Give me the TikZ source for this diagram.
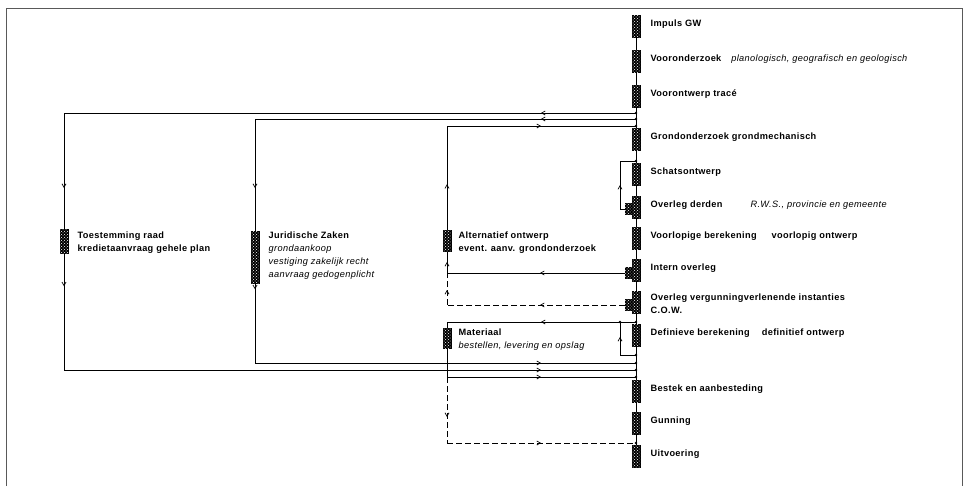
\documentclass[tikz,border=0pt]{standalone}
\usepackage{fontspec}
\setmainfont{Liberation Sans}[LetterSpace=4]
\usetikzlibrary{arrows.meta,positioning,patterns,decorations.markings}
\newcommand\cursief[1]{{\mdseries\itshape\fontsize{9.2}{13}\selectfont #1}}

\begin{document}
\begin{tikzpicture}[x=1pt, y=-1pt, line width=.7pt, >={Straight Barb[length=3.5pt,width=4pt]}]
\useasboundingbox (0,0) rectangle (967,488);
\tikzset{stap/.style={draw, fill=black, postaction={pattern=crosshatch dots, pattern color=white}, minimum width=8pt, minimum height=22pt, inner sep=0pt, line width=.6pt},
  zij/.style={stap, minimum width=6pt, minimum height=11pt},
  tekst/.style={anchor=west, inner sep=0pt, align=left, font=\fontsize{9.2}{13}\selectfont\bfseries},
  punt/.style={circle, fill=black, inner sep=0pt, minimum size=2.6pt},
  pijl/.style={postaction={decorate}, decoration={markings, mark=at position #1 with {\arrow{>}}}},
  stippel/.style={dash pattern=on 6pt off 3pt},
  kader/.style={line width=.9pt, black!65}}
\draw[kader] (6,486) -- (6,8) -- (962,8) -- (962,486);
\node[stap] (impuls) at (636,26) {};
\node[stap] (voor) at (636,61) {};
\node[stap] (trace) at (636,96) {};
\node[stap] (grond) at (636,139) {};
\node[stap] (schets) at (636,174) {};
\node[stap] (derden) at (636,207) {};
\node[stap] (voorl) at (636,238) {};
\node[stap] (intern) at (636,270) {};
\node[stap] (vergun) at (636,302) {};
\node[stap] (defin) at (636,335) {};
\node[stap] (bestek) at (636,391) {};
\node[stap] (gunning) at (636,423) {};
\node[stap] (uitv) at (636,456) {};
\node[zij, left=0pt of derden.west, yshift=-2pt] (derden-z) {};
\node[zij, left=0pt of intern.west, yshift=-3pt] (intern-z) {};
\node[zij, left=0pt of vergun.west, yshift=-3pt] (vergun-z) {};
\node[tekst, right=10pt of impuls, yshift=2pt] (impuls-t) {Impuls GW};
\node[tekst, right=10pt of voor, yshift=2pt] (voor-t) {Vooronderzoek\hspace{10pt}\cursief{planologisch, geografisch en geologisch}};
\node[tekst, right=10pt of trace, yshift=2pt] (trace-t) {Voorontwerp tracé};
\node[tekst, right=10pt of grond, yshift=2pt] (grond-t) {Grondonderzoek grondmechanisch};
\node[tekst, right=10pt of schets, yshift=2pt] (schets-t) {Schatsontwerp};
\node[tekst, right=10pt of derden, yshift=2pt] (derden-t) {Overleg derden\hspace{28pt}\cursief{R.W.S., provincie en gemeente}};
\node[tekst, right=10pt of voorl, yshift=2pt] (voorl-t) {Voorlopige berekening\hspace{15pt}voorlopig ontwerp};
\node[tekst, right=10pt of intern, yshift=2pt] (intern-t) {Intern overleg};
\node[tekst, right=10pt of vergun, yshift=-2pt] (vergun-t) {Overleg vergunningverlenende instanties\\C.O.W.};
\node[tekst, right=10pt of defin, yshift=2pt] (defin-t) {Definieve berekening\hspace{12pt}definitief ontwerp};
\node[tekst, right=10pt of bestek, yshift=2pt] (bestek-t) {Bestek en aanbesteding};
\node[tekst, right=10pt of gunning, yshift=2pt] (gunning-t) {Gunning};
\node[tekst, right=10pt of uitv, yshift=2pt] (uitv-t) {Uitvoering};
\node[stap, minimum height=24pt] (raad) at (64,241) {};
\node[stap, minimum height=52pt] (jur) at (255,257) {};
\node[stap, minimum height=21pt] (alt) at (447,241) {};
\node[stap, minimum height=20pt] (mat) at (447,338) {};
\node[tekst, right=9pt of raad, yshift=-1.5pt] (raad-t) {Toestemming raad\\kredietaanvraag gehele plan};
\node[tekst, right=9pt of jur, yshift=1.5pt] (jur-t) {Juridische Zaken\\\cursief{grondaankoop}\\\cursief{vestiging zakelijk recht}\\\cursief{aanvraag gedogenplicht}};
\node[tekst, right=7pt of alt, yshift=-1.5pt] (alt-t) {Alternatief ontwerp\\event. aanv. grondonderzoek};
\node[tekst, right=7pt of mat, yshift=-1.5pt] (mat-t) {Materiaal\\\cursief{bestellen, levering en opslag}};
\coordinate (j1) at (636,113);
\coordinate (j2) at (636,119);
\coordinate (j3) at (636,126);
\coordinate (j4) at (636,161);
\coordinate (j5) at (636,322);
\coordinate (j6) at (636,355);
\coordinate (j7) at (636,363);
\coordinate (j8) at (636,370);
\coordinate (j9) at (636,377);
\coordinate (j10) at (636,443);
\coordinate (r1) at (64,113);
\coordinate (r2) at (64,370);
\coordinate (u1) at (255,119);
\coordinate (u2) at (255,363);
\coordinate (a1) at (447,126);
\coordinate (a2) at (447,273);
\coordinate (a3) at (447,305);
\coordinate (m1) at (447,322);
\coordinate (m2) at (447,377);
\coordinate (m3) at (447,443);
\coordinate (s1) at (620,161);
\coordinate (s2) at (620,209);
\coordinate (d1) at (620,355);
\coordinate (d2) at (620,322);
\draw (impuls) -- (voor) -- (trace) -- (grond) -- (schets) -- (derden) -- (voorl) -- (intern) -- (vergun) -- (defin) -- (bestek) -- (gunning) -- (uitv);
\draw[pijl=95pt] (j1) -- (r1);
\draw[pijl=75pt] (r1) -- (raad);
\draw[pijl=33pt] (raad) -- (r2);
\draw[pijl=477pt] (r2) -- (j8);
\draw[pijl=95pt] (j2) -- (u1);
\draw[pijl=69pt] (u1) -- (jur);
\draw[pijl=6pt] (jur) -- (u2);
\draw[pijl=286pt] (u2) -- (j7);
\draw[pijl=85pt] (intern-z) -- (a2);
\draw[pijl=11pt] (a2) -- (alt);
\draw[pijl=46pt] (alt) -- (a1);
\draw[pijl=94pt] (a1) -- (j3);
\draw[stippel, pijl=85pt] (vergun-z) -- (a3);
\draw[stippel, pijl=15pt] (a3) -- (a2);
\draw[pijl=95pt] (j5) -- (m1);
\draw (m1) -- (mat) -- (m2);
\draw[pijl=94pt] (m2) -- (j9);
\draw[stippel, pijl=40pt] (m2) -- (m3);
\draw[stippel, pijl=94pt] (m3) -- (j10);
\draw[pijl=29pt] (derden-z) -- (s2) -- (s1) -- (j4);
\draw[pijl=34pt] (j6) -- (d1) -- (d2);
\foreach \p in {j1,j2,j3,j4,j5,j6,j7,j8,j9,j10,d2}
  \node[punt] (p-\p) at (\p) {};
\end{tikzpicture}
\end{document}
